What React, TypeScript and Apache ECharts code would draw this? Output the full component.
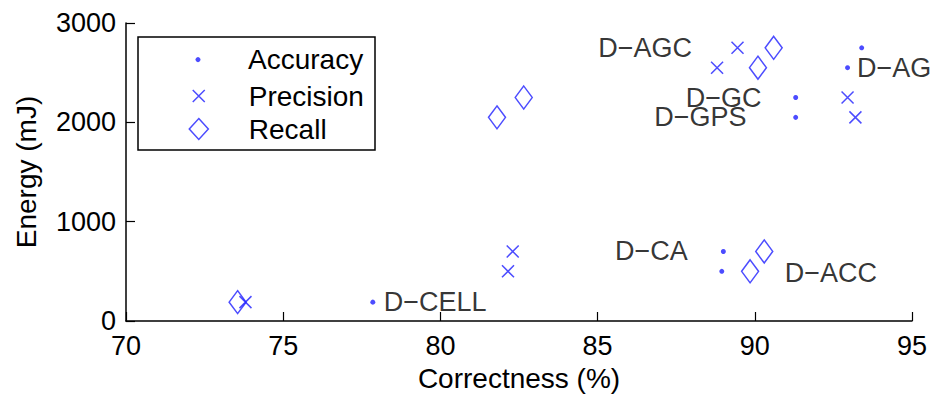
import { useEffect, useRef } from "react";
import * as echarts from "echarts";

// Detector configurations and their measured energy cost (mJ)
const configs = ["D−AGC", "D−AG", "D−GC", "D−GPS", "D−CA", "D−ACC", "D−CELL"];
const energy = [2750, 2550, 2250, 2050, 700, 500, 190];

// Correctness (%) of each configuration per metric
const accuracy = [93.4, 92.95, 91.3, 91.3, 89.0, 88.95, 77.85];
const precision = [89.45, 88.8, 92.95, 93.2, 82.3, 82.15, 73.8];
const recall = [90.6, 90.1, 82.65, 81.8, 90.3, 89.85, 73.55];

// Where each configuration's name is written (correctness %, energy mJ) and on which side
const labelX = [88.0, 93.25, 87.8, 86.8, 85.55, 90.95, 78.2];
const labelEnergy = [2750, 2550, 2250, 2050, 700, 480, 190];
const labelSide = ["left", "right", "right", "right", "right", "right", "right"];

const metricNames = ["Accuracy", "Precision", "Recall"];

const FONT = "'Liberation Sans', Arial, Helvetica, sans-serif";
const BLUE = "#1f1fff";

export default function App() {
  const ref = useRef<HTMLDivElement>(null);

  useEffect(() => {
    if (!ref.current) return;
    const chart = echarts.init(ref.current, undefined, { renderer: "svg" });

    const pairs = (xs: number[]) => xs.map((x, i) => [x, energy[i]]);

    // Legend icons are centred on x = 198; each legend's box starts at the icon's left edge.
    const legendCommon = {
      padding: 0,
      selectedMode: false,
      itemGap: 0,
      itemWidth: 90,
      orient: "vertical",
      textStyle: { fontSize: 28, lineHeight: 28, color: "#000", fontFamily: FONT },
    };

    chart.setOption({
      animation: false,
      backgroundColor: "#fff",
      grid: { left: 126, right: 20, top: 23, bottom: 74, containLabel: false },
      xAxis: {
        type: "value",
        min: 70,
        max: 95,
        interval: 5,
        name: "Correctness (%)",
        nameLocation: "middle",
        nameGap: 43,
        nameTextStyle: { fontSize: 28, color: "#000", fontFamily: FONT },
        axisLine: { lineStyle: { color: "#000", width: 1.5 } },
        axisTick: { inside: true, length: 9, lineStyle: { color: "#000", width: 1.2 } },
        axisLabel: {
          fontSize: 27,
          color: "#000",
          fontFamily: FONT,
          margin: 11,
          formatter: (v: number) => String(v),
        },
        splitLine: { show: false },
      },
      yAxis: {
        type: "value",
        min: 0,
        max: 3000,
        interval: 1000,
        name: "Energy (mJ)",
        nameLocation: "middle",
        nameGap: 86,
        nameTextStyle: { fontSize: 28, color: "#000", fontFamily: FONT },
        axisLine: { show: true, lineStyle: { color: "#000", width: 1.5 } },
        axisTick: { show: true, inside: true, length: 9, lineStyle: { color: "#000", width: 1.2 } },
        axisLabel: {
          fontSize: 27,
          color: "#000",
          fontFamily: FONT,
          margin: 10,
          formatter: (v: number) => String(v),
        },
        splitLine: { show: false },
      },
      legend: [
        {
          ...legendCommon,
          left: 195.5,
          top: 45.6,
          data: [metricNames[0]],
          itemHeight: 5,
          itemStyle: { borderWidth: 0 },
        },
        {
          ...legendCommon,
          left: 192,
          top: 82,
          data: [metricNames[1]],
          itemHeight: 12,
          itemStyle: { borderWidth: 1.5 },
        },
        {
          ...legendCommon,
          left: 188.5,
          top: 115,
          data: [{ name: metricNames[2], icon: "path://M5,0L10,5.5L5,11L0,5.5Z" }],
          itemHeight: 21,
          itemStyle: { borderWidth: 1.5 },
        },
      ],
      graphic: [
        {
          type: "rect",
          shape: { x: 138, y: 37, width: 237, height: 113 },
          style: { fill: "#fff", stroke: "#000", lineWidth: 1.5 },
          z: 0,
          silent: true,
        },
      ],
      series: [
        {
          name: metricNames[0],
          type: "scatter",
          silent: true,
          symbol: "circle",
          symbolSize: 5,
          itemStyle: { color: BLUE, borderWidth: 0 },
          data: pairs(accuracy),
        },
        {
          name: metricNames[1],
          type: "scatter",
          silent: true,
          symbol: "path://M0,0L10,10M10,0L0,10",
          symbolSize: 12,
          itemStyle: { color: "transparent", borderColor: BLUE, borderWidth: 1.5 },
          data: pairs(precision),
        },
        {
          name: metricNames[2],
          type: "scatter",
          silent: true,
          symbol: "diamond",
          symbolSize: [17, 23],
          itemStyle: { color: "transparent", borderColor: BLUE, borderWidth: 1.5 },
          data: pairs(recall),
        },
        {
          name: "labels",
          type: "scatter",
          silent: true,
          symbol: "circle",
          symbolSize: 0,
          itemStyle: { color: "transparent" },
          label: {
            show: true,
            formatter: "{b}",
            distance: 0,
            fontSize: 27,
            color: "#000",
            fontFamily: FONT,
          },
          data: configs.map((name, i) => ({
            name,
            value: [labelX[i], labelEnergy[i]],
            label: { position: labelSide[i] },
          })),
        },
      ],
    });

    return () => chart.dispose();
  }, []);

  return (
    <div
      ref={ref}
      style={{ position: "fixed", left: 0, top: 0, width: 932, height: 397, background: "#fff" }}
    />
  );
}
